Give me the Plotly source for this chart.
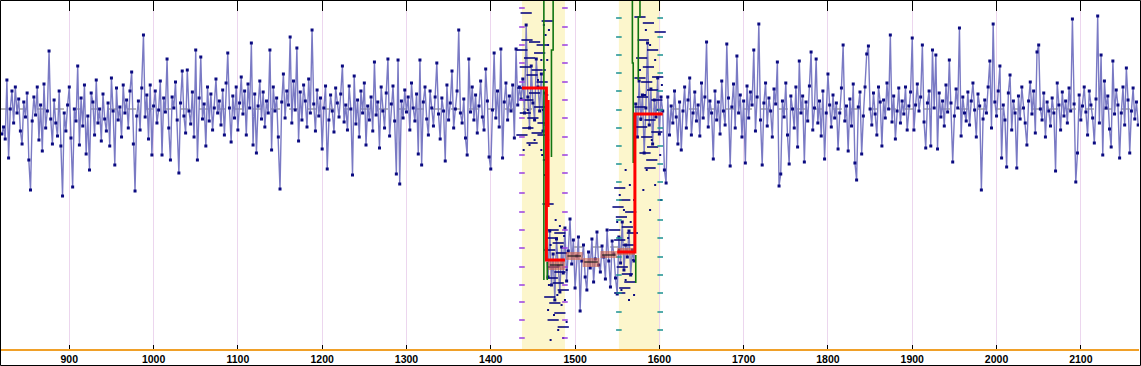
import numpy as np
import plotly.graph_objects as go

# ---------------- data ----------------
X_START = 820
X_STEP = 2

signal_a = [
    215, 222, 210, 269, 191, 240, 258, 226, 262, 236,
    250, 218, 205, 247, 232, 256, 189, 159, 228, 252,
    234, 262, 209, 244, 198, 265, 221, 238, 298, 230,
    205, 249, 226, 213, 258, 203, 153, 236, 218, 244,
    262, 211, 162, 240, 228, 283, 204, 251, 223, 264,
    195, 233, 179, 256, 247, 214, 269, 226, 240, 208,
    255, 230, 218, 246, 203, 271, 238, 184, 261, 229,
    242, 212, 264, 236, 249, 221, 258, 277, 205, 158,
    233, 248, 219, 261, 314, 232, 254, 210, 264, 194,
    243, 258, 226, 239, 268, 194, 251, 237, 290, 221,
    189, 252, 241, 267, 229, 176, 246, 278, 233, 216,
    279, 238, 225, 257, 212, 299, 189, 251, 292, 230,
    245, 203, 262, 228, 255, 219, 241, 270, 236, 248,
    224, 259, 214, 266, 296, 241, 207, 253, 231, 262,
    219, 246, 272, 235, 258, 214, 265, 241, 306, 204,
    255, 196, 243, 268, 230, 257, 222, 248, 236, 299,
    199, 262, 238, 251, 212, 160, 247, 275, 231, 258,
    244, 312, 226, 268, 239, 301, 208, 257, 229, 264,
    248, 222, 270, 236, 319, 245, 218, 259, 233, 251,
    200, 241, 263, 180, 229, 254, 238, 217, 261, 246,
    232, 255, 283, 227, 244, 219, 263, 240, 174, 273,
    225, 249, 212, 258, 236, 266, 204, 243, 229, 252,
    218, 287, 234, 247, 201, 262, 238, 221, 256, 290,
    213, 245, 263, 228, 175, 289, 165, 248, 231, 259,
    237, 252, 219, 266, 241, 228, 255, 195, 289, 184,
    247, 262, 230, 214, 258, 241, 223, 252, 286, 235,
    210, 251, 238, 188, 264, 229, 246, 278, 221, 240,
    258, 319, 236, 226, 250, 211, 194, 290, 237, 262,
    229, 254, 216, 243, 268, 232, 219, 280, 248, 192,
    180, 239, 296, 231, 258, 222, 300, 191, 247, 266,
    229, 253, 238, 264, 211, 300, 244, 262, 250,
]
signal_b = [270, 236, 324, 252, 221, 283, 246, 229, 290, 262, 238, 275, 218, 256]
signal_c = [
    100, 72, 118, 64, 95, 49, 110, 83, 57, 102,
    76, 121, 68, 98, 130, 85, 109, 61, 93, 112,
    38, 88, 104, 72, 59, 97, 81, 110, 67, 90,
    117, 84, 77, 103, 92, 70, 119, 88, 62, 108,
    95, 71, 55, 112, 86, 127, 79, 104, 92, 118,
    74, 99, 88,
]
signal_d = [245, 212, 268, 230, 254, 196, 241, 306, 224, 260, 205, 249, 232, 271, 215, 252, 238]
signal_e = [
    179, 166, 252, 214, 243, 226, 258, 232, 205, 247,
    199, 238, 262, 221, 249, 271, 214, 236, 257, 228,
    244, 213, 266, 231, 252, 307, 222, 248, 236, 190,
    258, 229, 247, 215, 268, 238, 224, 305, 251, 183,
    242, 265, 221, 293, 236, 254, 212, 248, 186, 263,
    231, 257, 244, 299, 218, 252, 325, 229, 184, 246,
    266, 223, 251, 238, 212, 260, 245, 287, 163, 175,
    248, 232, 266, 214, 185, 253, 240, 221, 262, 202,
    288, 236, 253, 187, 247, 228, 263, 297, 219, 241,
    290, 226, 248, 213, 258, 190, 236, 275, 244, 222,
    254, 231, 246, 200, 236, 261, 304, 228, 243, 198,
    250, 223, 265, 186, 169, 242, 257, 195, 233, 262,
    295, 303, 240, 224, 256, 235, 214, 262, 247, 203,
    249, 231, 266, 240, 314, 227, 253, 210, 238, 261,
    226, 248, 235, 262, 219, 243, 257, 311, 219, 244,
    265, 238, 252, 304, 227, 201, 246, 258, 203, 299,
    241, 294, 200, 256, 232, 248, 223, 264, 237, 289,
    246, 187, 233, 260, 241, 321, 213, 252, 236, 228,
    257, 224, 248, 266, 239, 212, 255, 243, 159, 230,
    249, 236, 262, 288, 221, 325, 247, 233, 258, 283,
    191, 244, 229, 182, 256, 274, 219, 248, 236, 181,
    253, 230, 262, 241, 226, 204, 248, 267, 235, 258,
    216, 297, 304, 240, 229, 256, 212, 247, 238, 223,
    251, 236, 178, 266, 244, 219, 257, 233, 248, 226,
    261, 238, 330, 245, 167, 196, 254, 229, 243, 262,
    237, 214, 258, 244, 231, 206, 250, 333, 226, 294,
    194, 268, 241, 253, 220, 202, 288, 235, 259, 244,
    191, 236, 262, 224, 281, 249, 196, 238, 261, 230,
    247, 224,
]

# highlighted windows (x ranges)
band_x0 = [1437, 1552]
band_x1 = [1488, 1601]

# segment fits (salmon boxes)
seg_x0 = [1468, 1489, 1509, 1530, 1550]
seg_x1 = [1488, 1509, 1529, 1550, 1571]
seg_lo = [79, 89, 82, 91, 94]
seg_hi = [89, 97, 91, 98, 101]
seg_mean = [84, 93, 87, 94, 97]

# step fit (red)
red_x = [1437, 1466, 1466, 1488, None, 1550, 1571, 1571, 1604, None, 1468, 1468]
red_y = [261, 261, 89, 89, None, 97, 97, 235, 235, None, 249, 142]

# threshold traces (green)
green_x = [1463, 1463, None, 1474, 1474, 1472, 1472, None, 1568, 1568, 1569, 1569, None,
           1577, 1577, 1575, 1575, None, 1467, 1467, None, 1572, 1572]
green_y = [348, 69, None, 348, 299, 299, 192, None, 348, 286, 286, 186, None,
           348, 332, 332, 269, None, 87, 69, None, 94, 66]

baseline_level = 240
baseline_x = [819, 1466, None, 1571, 2169]
mid_level = 102
mid_x = [1499, 1558]

# replicate readings (short dashes) inside windows
dash_x = [1442, 1467, 1443, 1452, 1461, 1437, 1458, 1446, 1441, 1455, 1449, 1461, 1438, 1452,
          1444, 1458, 1441, 1450, 1462, 1444, 1455, 1449, 1462, 1437,
          1468, 1474, 1482, 1473, 1480, 1470, 1484, 1474, 1482, 1473, 1480, 1486, 1470, 1476,
          1482, 1474, 1486,
          1577, 1587, 1601, 1581, 1592, 1579, 1587, 1598, 1577, 1585, 1592, 1580, 1597, 1577,
          1589, 1579, 1597, 1585, 1592, 1583, 1591, 1589,
          1553, 1559, 1551, 1566, 1555, 1562, 1547, 1568, 1553, 1563, 1556, 1562, 1553, 1559, 1565]
dash_y = [336, 328, 309, 307, 304, 299, 296, 291, 282, 279, 274, 267, 261, 256,
          249, 242, 236, 231, 226, 221, 216, 206, 214, 214,
          145, 119, 116, 111, 106, 99, 96, 82, 77, 71, 66, 59, 52, 46,
          36, 29, 22,
          332, 326, 317, 309, 299, 291, 282, 272, 271, 267, 259, 252, 249, 242,
          229, 222, 217, 212, 202, 196, 189, 181,
          161, 149, 142, 137, 132, 122, 119, 116, 109, 104, 82, 75, 56, 61, 67]

dot_x = [1463, 1465, 1468, 1460, 1464, 1456, 1467, 1462, 1465, 1452, 1460, 1446, 1439, 1444,
         1468, 1463, 1464, 1461, 1467, 1469,
         1477, 1482, 1487, 1471, 1481, 1490, 1469, 1479, 1484, 1475, 1490, 1480, 1486, 1471,
         1488, 1468,
         1560, 1565, 1553, 1570, 1558, 1550, 1566, 1563, 1552, 1569, 1560, 1555, 1570, 1564,
         1584, 1589, 1595, 1577, 1603, 1583, 1598, 1578, 1591, 1601, 1585, 1595, 1581, 1602, 1589]
dot_y = [324, 314, 304, 289, 279, 269, 254, 239, 224, 209, 199, 204, 199, 239,
         209, 189, 174, 194, 289, 319,
         129, 123, 113, 104, 89, 79, 64, 54, 44, 34, 27, 19, 11, 9,
         49, 39,
         179, 164, 154, 149, 139, 127, 127, 111, 99, 89, 69, 59, 54, 49,
         319, 304, 289, 279, 264, 254, 239, 229, 209, 194, 179, 164, 159, 149, 139]

# scale marks of the two windows
purple_x = [1437, 1488]
purple_levels = [341, 322, 304, 286, 267, 249, 231, 212, 194, 176, 156, 137, 119, 101, 82, 64, 47, 29, 11]
teal_x = [1552, 1601]
teal_levels = [331, 312, 294, 276, 258, 239, 221, 203, 185, 167, 149, 129, 111, 92, 74, 56, 37, 19]

tick_values = [900, 1000, 1100, 1200, 1300, 1400, 1500, 1600, 1700, 1800, 1900, 2000, 2100]
x_range = [819, 2169]
y_range = [0, 348]

# ---------------- figure ----------------
signal = signal_a + signal_b + signal_c + signal_d + signal_e
x = X_START + X_STEP * np.arange(len(signal))

fig = go.Figure()

for a, b in zip(band_x0, band_x1):
    fig.add_shape(type="rect", xref="x", yref="paper", x0=a, x1=b, y0=0, y1=1,
                  fillcolor="#fcf6cc", line=dict(width=0), layer="below")

fig.add_trace(go.Scatter(x=baseline_x, y=[baseline_level, baseline_level, None, baseline_level, baseline_level],
                         mode="lines", line=dict(color="#707070", width=1, dash="dash"), hoverinfo="skip"))
fig.add_trace(go.Scatter(x=mid_x, y=[mid_level, mid_level], mode="lines",
                         line=dict(color="#707070", width=1, dash="dash"), hoverinfo="skip"))

fig.add_trace(go.Scatter(x=x, y=signal, mode="lines+markers",
                         line=dict(color="#7a7ac4", width=1.4),
                         marker=dict(symbol="square", size=3, color="#0a0a80", line=dict(width=0))))

fig.add_trace(go.Scatter(x=dot_x, y=dot_y, mode="markers",
                         marker=dict(symbol="square", size=2, color="#0a0a80", line=dict(width=0))))
fig.add_trace(go.Scatter(x=dash_x, y=dash_y, mode="markers",
                         marker=dict(symbol="line-ew", size=8, color="#0a0a80",
                                     line=dict(width=1.6, color="#0a0a80"))))

px_, py_ = [], []
for xv in purple_x:
    px_ += [xv] * len(purple_levels)
    py_ += purple_levels
fig.add_trace(go.Scatter(x=px_, y=py_, mode="markers",
                         marker=dict(symbol="line-ew", size=4, line=dict(width=1.5, color="#9a3ee0"))))
tx_, ty_ = [], []
for xv in teal_x:
    tx_ += [xv] * len(teal_levels)
    ty_ += teal_levels
fig.add_trace(go.Scatter(x=tx_, y=ty_, mode="markers",
                         marker=dict(symbol="line-ew", size=4, line=dict(width=1.5, color="#1a9090"))))

for a, b, lo, hi, m in zip(seg_x0, seg_x1, seg_lo, seg_hi, seg_mean):
    fig.add_trace(go.Scatter(x=[a, b, b, a, a], y=[lo, lo, hi, hi, lo], mode="lines", fill="toself",
                             fillcolor="rgba(214,104,74,0.6)", line=dict(width=0), hoverinfo="skip"))
    fig.add_trace(go.Scatter(x=[a + 2, b - 2], y=[m, m], mode="lines",
                             line=dict(color="#202020", width=1.2), hoverinfo="skip"))

fig.add_trace(go.Scatter(x=green_x, y=green_y, mode="lines",
                         line=dict(color="#117511", width=1.6), hoverinfo="skip"))
fig.add_trace(go.Scatter(x=red_x, y=red_y, mode="lines",
                         line=dict(color="#ff0000", width=3), hoverinfo="skip"))

# invisible trace to carry the top axis
fig.add_trace(go.Scatter(x=[x_range[0]], y=[0], xaxis="x2", mode="markers",
                         marker=dict(opacity=0), hoverinfo="skip"))

W, H = 1141, 366
ml, mr, mt, mb = 1, 2, 1, 17
pw, ph = W - ml - mr, H - mt - mb

fig.add_shape(type="rect", xref="paper", yref="paper",
              x0=-0.5 / pw, x1=1 + 1.5 / pw, y0=-(mb - 0.5) / ph, y1=1 + 0.5 / ph,
              line=dict(color="black", width=1), fillcolor="rgba(0,0,0,0)", layer="above")

fig.update_layout(
    width=W, height=H, autosize=False,
    margin=dict(l=ml, r=mr, t=mt, b=mb, pad=0),
    paper_bgcolor="white", plot_bgcolor="white",
    showlegend=False,
    xaxis=dict(range=x_range, tickvals=tick_values, ticktext=[str(v) for v in tick_values],
               showgrid=True, gridcolor="#ecd6ee", gridwidth=1,
               showline=True, linecolor="#f0a028", linewidth=1.5,
               ticks="inside", ticklen=4, tickcolor="black", tickwidth=1,
               tickfont=dict(family="Liberation Sans", size=10.5, color="black", weight="bold"),
               zeroline=False),
    xaxis2=dict(overlaying="x", side="top", matches="x", range=x_range, anchor="y",
                tickvals=tick_values, showticklabels=False, ticks="inside", ticklen=10,
                tickcolor="black", tickwidth=1, showgrid=False, showline=False, zeroline=False),
    yaxis=dict(range=y_range, showticklabels=False, showgrid=False, zeroline=False,
               showline=False, ticks=""),
)

fig.write_html("out.html", config={"displayModeBar": False},
               post_script="document.body.style.margin='0';document.body.style.overflow='hidden';")
